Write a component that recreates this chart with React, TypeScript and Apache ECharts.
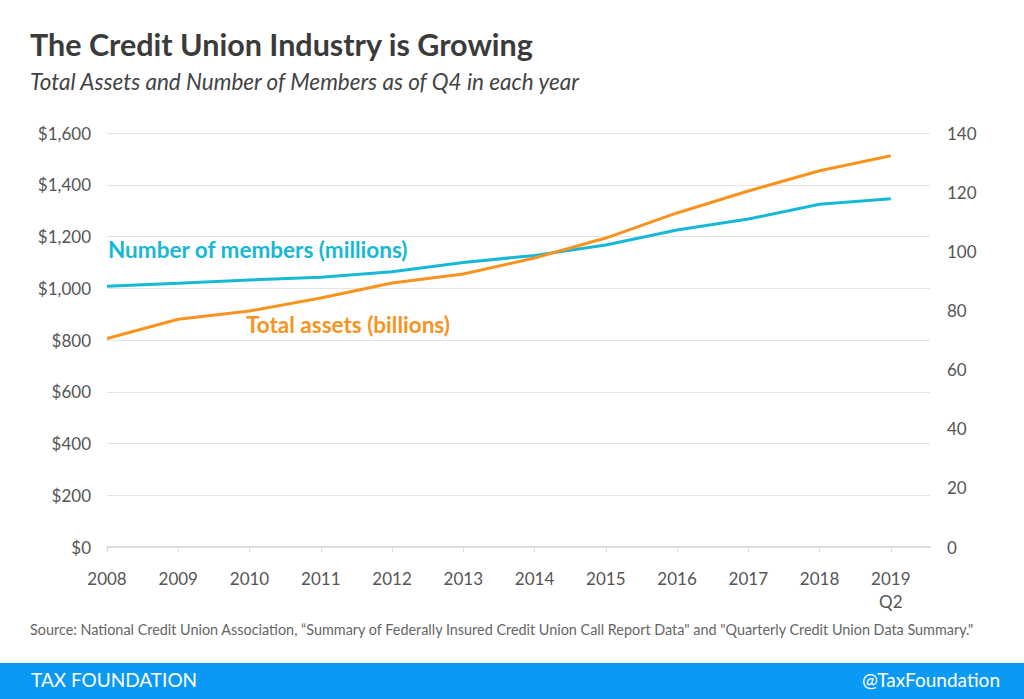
import React, { useEffect, useRef } from "react";
import * as echarts from "echarts";

const years = [2008, 2009, 2010, 2011, 2012, 2013, 2014, 2015, 2016, 2017, 2018, 2019];
const yearLabels = ["2008", "2009", "2010", "2011", "2012", "2013", "2014", "2015", "2016", "2017", "2018", "2019\nQ2"];
const totalAssets = [806, 880, 912, 962, 1020, 1055, 1117, 1194, 1291, 1376, 1454, 1512];
const members = [88.2, 89.2, 90.3, 91.2, 93.1, 96.2, 98.6, 102.1, 107.2, 110.9, 115.9, 117.8];
const leftTicks = [0, 200, 400, 600, 800, 1000, 1200, 1400, 1600];
const rightTicks = [0, 20, 40, 60, 80, 100, 120, 140];

const FONT = "Lato, 'Noto Sans', sans-serif";
const ORANGE = "#F7931E";
const TEAL = "#17B8D6";

export default function App() {
  const ref = useRef<HTMLDivElement>(null);
  useEffect(() => {
    if (!ref.current) return;
    const chart = echarts.init(ref.current, null, { renderer: "svg" });
    const labelMap: Record<number, string> = {};
    years.forEach((y, i) => (labelMap[y] = yearLabels[i]));
    chart.setOption({
      animation: false,
      backgroundColor: "#ffffff",
      textStyle: { fontFamily: FONT },
      grid: { left: 107, right: 94, top: 133, bottom: 152, containLabel: false },
      xAxis: {
        type: "value",
        min: 2008,
        max: 2019.55,
        interval: 1,
        splitLine: { show: false },
        axisLine: { show: true, lineStyle: { color: "#dddddd", width: 2 } },
        axisTick: { show: true, length: 5, customValues: years, lineStyle: { color: "#dddddd", width: 1 } },
        axisLabel: {
          customValues: years,
          formatter: (v: number) => labelMap[Math.round(v)] ?? "",
          color: "#555555",
          fontSize: 17,
          fontFamily: FONT,
          margin: 20,
          lineHeight: 23,
          align: "center",
          verticalAlign: "top",
        },
      },
      yAxis: [
        {
          type: "value",
          min: 0,
          max: 1600,
          interval: 200,
          position: "left",
          axisLine: { show: false },
          axisTick: { show: false },
          splitLine: { show: true, lineStyle: { color: "#e4e4e4", width: 1 } },
          axisLabel: {
            customValues: leftTicks,
            color: "#555555",
            fontSize: 17,
            fontFamily: FONT,
            margin: 16,
            formatter: (v: number) => "$" + v.toLocaleString("en-US"),
          },
        },
        {
          type: "value",
          min: 0,
          max: 140,
          interval: 20,
          position: "right",
          axisLine: { show: false },
          axisTick: { show: false },
          splitLine: { show: false },
          axisLabel: {
            customValues: rightTicks,
            color: "#555555",
            fontSize: 17,
            fontFamily: FONT,
            margin: 17,
          },
        },
      ],
      series: [
        {
          type: "line",
          name: "Total assets (billions)",
          yAxisIndex: 0,
          data: years.map((y, i) => [y, totalAssets[i]]),
          symbol: "none",
          lineStyle: { color: ORANGE, width: 3 },
          itemStyle: { color: ORANGE },
          z: 3,
        },
        {
          type: "line",
          name: "Number of members (millions)",
          yAxisIndex: 1,
          data: years.map((y, i) => [y, members[i]]),
          symbol: "none",
          lineStyle: { color: TEAL, width: 3 },
          itemStyle: { color: TEAL },
          z: 2,
        },
      ],
      graphic: [
        {
          type: "text",
          left: 30,
          top: 28,
          style: { text: "The Credit Union Industry is Growing", font: `bold 30.5px ${FONT}`, fill: "#3b3b3b" },
        },
        {
          type: "text",
          left: 30,
          top: 70,
          style: { text: "Total Assets and Number of Members as of Q4 in each year", font: `italic 22.5px ${FONT}`, fill: "#444444" },
        },
        {
          type: "text",
          left: 108,
          top: 238,
          style: { text: "Number of members (millions)", font: `bold 22.5px ${FONT}`, fill: TEAL },
        },
        {
          type: "text",
          left: 246,
          top: 313,
          style: { text: "Total assets (billions)", font: `bold 22.5px ${FONT}`, fill: ORANGE },
        },
        {
          type: "text",
          left: 30,
          top: 622,
          style: {
            text: "Source: National Credit Union Association, \u201cSummary of Federally Insured Credit Union Call Report Data\" and \"Quarterly Credit Union Data Summary.\"",
            font: `14.4px ${FONT}`,
            fill: "#666666",
          },
        },
        {
          type: "rect",
          left: 0,
          top: 663,
          shape: { width: 1024, height: 36 },
          style: { fill: "#0A99F5" },
        },
        {
          type: "text",
          left: 31,
          top: 670,
          style: { text: "TAX FOUNDATION", font: `19px ${FONT}`, fill: "#ffffff" },
        },
        {
          type: "text",
          right: 24,
          top: 670,
          style: { text: "@TaxFoundation", font: `19px ${FONT}`, fill: "#ffffff" },
        },
      ],
    });
    return () => chart.dispose();
  }, []);
  return <div ref={ref} style={{ position: "fixed", left: 0, top: 0, width: 1024, height: 699 }} />;
}
